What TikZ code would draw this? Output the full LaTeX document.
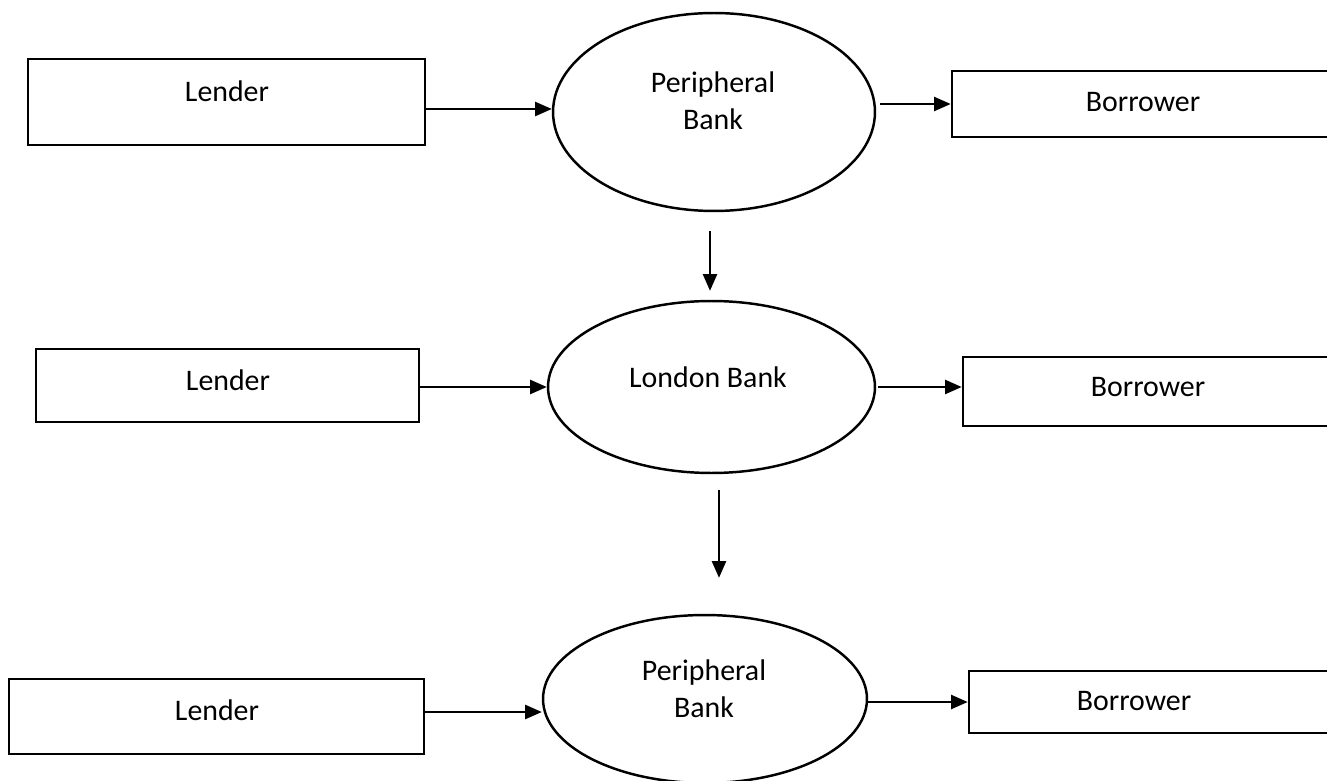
\documentclass[tikz,border=0pt]{standalone}
\usepackage{fontspec}
\setmainfont{Carlito}
\usetikzlibrary{shapes.geometric,arrows.meta}
\tikzset{
  px/.style={x=0.02cm,y=-0.02cm},
  boxnode/.style={draw,line width=1.5pt,rectangle,inner sep=0pt},
  ellnode/.style={draw,line width=1.4pt,ellipse,inner sep=0pt},
  lbl/.style={inner sep=0pt,align=center,font=\fontsize{17}{21}\selectfont},
  arr/.style={line width=1.3pt,-{Triangle[length=9.5pt,width=8pt]}}
}
\begin{document}
\begin{tikzpicture}[px]
\useasboundingbox (0,0) rectangle (1327,780);
\clip (0,0) rectangle (1327,780);
% row 1
\node[boxnode,minimum width=7.94cm,minimum height=1.72cm] (l1) at (226.5,102) {};
\node[ellnode,minimum width=6.44cm,minimum height=3.96cm] (e1) at (714,112) {};
\node[boxnode,minimum width=7.76cm,minimum height=1.32cm] (b1) at (1146,104) {};
\node[lbl] (t1) at (227,91) {Lender};
\node[lbl] (t2) at (713,100.5) {Peripheral\\Bank};
\node[lbl] (t3) at (1143,102) {Borrower};
% row 2
\node[boxnode,minimum width=7.66cm,minimum height=1.46cm] (l2) at (227.5,385.5) {};
\node[ellnode,minimum width=6.54cm,minimum height=3.44cm] (e2) at (711.5,387) {};
\node[boxnode,minimum width=7.54cm,minimum height=1.38cm] (b2) at (1151.5,391.5) {};
\node[lbl] (t4) at (228,380) {Lender};
\node[lbl] (t5) at (708,377) {London Bank};
\node[lbl] (t6) at (1148,387) {Borrower};
% row 3
\node[boxnode,minimum width=8.30cm,minimum height=1.50cm] (l3) at (216.5,716.5) {};
\node[ellnode,minimum width=6.48cm,minimum height=3.36cm] (e3) at (705,699) {};
\node[boxnode,minimum width=7.42cm,minimum height=1.24cm] (b3) at (1154.5,702) {};
\node[lbl] (t7) at (217,710) {Lender};
\node[lbl] (t8) at (704,689) {Peripheral\\Bank};
\node[lbl] (t9) at (1134,701) {Borrower};
% connector anchor points
\coordinate (a1) at ([yshift=-0.14cm]l1.east);
\coordinate (a2) at ([xshift=-0.08cm]e1.south);
\coordinate (a3) at ([xshift=0.15cm]e2.south);
\coordinate (a4) at ([yshift=0.09cm]l3.east);
% connectors
\draw[arr] (a1) -- (a1 -| e1.west);
\draw[arr,shorten <=0.08cm] (e1.east |- b1.west) -- (b1.west);
\draw[arr,shorten <=0.38cm,shorten >=0.18cm] (a2) -- (a2 |- e2.north);
\draw[arr] (l2.east |- e2.west) -- (e2.west);
\draw[arr,shorten <=0.04cm] (e2.east) -- (e2.east -| b2.west);
\draw[arr,shorten <=0.32cm,shorten >=0.72cm] (a3) -- (a3 |- e3.north);
\draw[arr] (a4) -- (a4 -| e3.west);
\draw[arr] (e3.east |- b3.west) -- (b3.west);
\end{tikzpicture}
\end{document}
